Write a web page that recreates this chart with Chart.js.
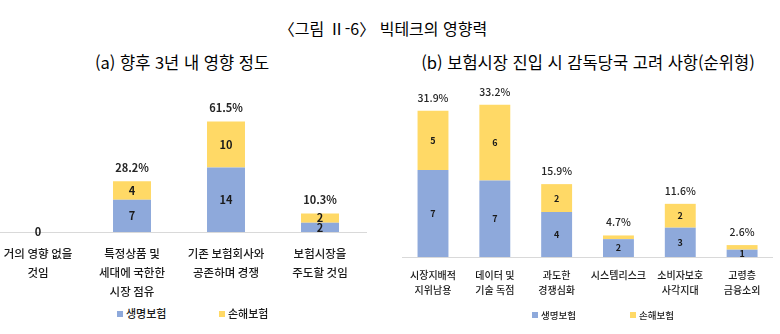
<!DOCTYPE html>
<html lang="ko">
<head>
<meta charset="UTF-8">
<title>빅테크의 영향력</title>
<script src="https://cdn.jsdelivr.net/npm/chart.js"></script>
<style>
  body { margin: 0; width: 780px; height: 334px; overflow: hidden; background: #fff; position: relative;
         font-family: "Noto Sans CJK KR", sans-serif; color: #000; }
  .title { position: absolute; white-space: nowrap; transform: translateX(-50%); line-height: 1; }
  .wrap { position: absolute; }
  .legend { position: absolute; white-space: nowrap; line-height: 1; color: #1a1a1a; font-weight: 500; }
  .legend i { display: inline-block; width: 6px; height: 6px; margin-right: 3px; vertical-align: middle; position: relative; top: -1px; }
</style>
</head>
<body>

<div class="title" style="left:383px; top:20px; font-size:16px;">〈그림 Ⅱ-6〉 빅테크의 영향력</div>
<div class="title" style="left:182px; top:54px; font-size:16.5px;">(a) 향후 3년 내 영향 정도</div>
<div class="title" style="left:588px; top:54px; font-size:16.5px;">(b) 보험시장 진입 시 감독당국 고려 사항(순위형)</div>

<div class="wrap" style="left:-9px; top:80px; width:376px; height:222px;"><canvas id="chartA"></canvas></div>
<div class="wrap" style="left:400px; top:75px; width:373px; height:232px;"><canvas id="chartB"></canvas></div>

<div class="legend" style="left:117px; top:308px; font-size:11px;"><i id="la1"></i>생명보험</div>
<div class="legend" style="left:219px; top:308px; font-size:11px;"><i id="la2"></i>손해보험</div>
<div class="legend" style="left:532px; top:311px; font-size:9.5px;"><i id="lb1"></i>생명보험</div>
<div class="legend" style="left:630px; top:311px; font-size:9.5px;"><i id="lb2"></i>손해보험</div>

<script>
    const lifeColor = '#8EA9DB';
    const nonLifeColor = '#FFD966';

    // (a) 향후 3년 내 영향 정도 - 응답 수
    const catsA = [['거의 영향 없을', '것임'], ['특정상품 및', '세대에 국한한', '시장 점유'],
                   ['기존 보험회사와', '공존하며 경쟁'], ['보험시장을', '주도할 것임']];
    const lifeA = [0, 7, 14, 2];
    const nonLifeA = [0, 4, 10, 2];
    const lifeLabelsA = ['0', '7', '14', '2'];
    const nonLifeLabelsA = ['', '4', '10', '2'];
    const shareA = ['', '28.2%', '61.5%', '10.3%'];

    // (b) 감독당국 고려 사항 - 막대 높이(%)와 응답 수
    const catsB = [['시장지배적', '지위남용'], ['데이터 및', '기술 독점'], ['과도한', '경쟁심화'],
                   ['시스템리스크'], ['소비자보호', '사각지대'], ['고령층', '금융소외']];
    const lifeB = [19.0, 16.7, 9.8, 3.9, 6.4, 1.6];
    const nonLifeB = [12.9, 16.5, 6.1, 0.8, 5.2, 1.0];
    const lifeLabelsB = ['7', '7', '4', '2', '3', '1'];
    const nonLifeLabelsB = ['5', '6', '2', '', '2', ''];
    const shareB = ['31.9%', '33.2%', '15.9%', '4.7%', '11.6%', '2.6%'];

    document.getElementById('la1').style.background = lifeColor;
    document.getElementById('lb1').style.background = lifeColor;
    document.getElementById('la2').style.background = nonLifeColor;
    document.getElementById('lb2').style.background = nonLifeColor;

    // segment counts inside bars, share on top of each stack
    const barLabels = {
        id: 'barLabels',
        afterDatasetsDraw(chart, args, opts) {
            const ctx = chart.ctx;
            ctx.save();
            ctx.textAlign = 'center';
            ctx.textBaseline = 'middle';
            ctx.fillStyle = '#1a1a1a';
            ctx.font = 'bold ' + opts.segSize + 'px "Noto Sans CJK KR"';
            chart.data.datasets.forEach((ds, i) => {
                chart.getDatasetMeta(i).data.forEach((bar, j) => {
                    if (ds.counts[j]) ctx.fillText(ds.counts[j], bar.x, (bar.y + bar.base) / 2);
                });
            });
            ctx.font = opts.totalWeight + ' ' + opts.totalSize + 'px "Noto Sans CJK KR"';
            ctx.fillStyle = '#262626';
            const top = chart.getDatasetMeta(chart.data.datasets.length - 1).data;
            top.forEach((bar, j) => {
                if (opts.totals[j]) ctx.fillText(opts.totals[j], bar.x, bar.y - opts.offset);
            });
            ctx.restore();
        }
    };

    function makeChart(id, cats, life, nonLife, lifeLabels, nonLifeLabels, totals, o) {
        return new Chart(document.getElementById(id), {
            type: 'bar',
            data: {
                labels: cats,
                datasets: [
                    { label: '생명보험', data: life, counts: lifeLabels, backgroundColor: lifeColor,
                      barPercentage: o.barPct, categoryPercentage: 1 },
                    { label: '손해보험', data: nonLife, counts: nonLifeLabels, backgroundColor: nonLifeColor,
                      barPercentage: o.barPct, categoryPercentage: 1 }
                ]
            },
            options: {
                responsive: true,
                maintainAspectRatio: false,
                animation: false,
                layout: { padding: { top: o.padTop, left: 0, right: 0, bottom: 0 } },
                plugins: {
                    legend: { display: false },
                    tooltip: { enabled: false },
                    barLabels: { segSize: o.segSize, totalSize: o.totalSize, totalWeight: o.totalWeight,
                                 totals: totals, offset: o.offset }
                },
                scales: {
                    x: {
                        stacked: true,
                        grid: { display: false, drawTicks: false },
                        border: { display: true, color: '#d9d9d9', width: 1 },
                        ticks: {
                            autoSkip: false, maxRotation: 0, padding: o.tickPad, color: '#1a1a1a',
                            font: { family: '"Noto Sans CJK KR"', size: o.tickSize, weight: 500, lineHeight: o.tickLine }
                        },
                        afterFit(scale) { scale.height = o.axisH; }
                    },
                    y: { stacked: true, display: false, min: 0, max: o.max }
                }
            },
            plugins: [barLabels]
        });
    }

    makeChart('chartA', catsA, lifeA, nonLifeA, lifeLabelsA, nonLifeLabelsA, shareA, {
        barPct: 0.404, padTop: 23, max: 28, tickPad: 12, tickSize: 11.5, tickLine: 1.65, axisH: 70,
        segSize: 11, totalSize: 11, totalWeight: 'bold', offset: 14
    });
    makeChart('chartB', catsB, lifeB, nonLifeB, lifeLabelsB, nonLifeLabelsB, shareB, {
        barPct: 0.5, padTop: 17, max: 36, tickPad: 10, tickSize: 10, tickLine: 1.55, axisH: 50,
        segSize: 9, totalSize: 10.5, totalWeight: '500', offset: 13
    });
</script>

</body>
</html>
